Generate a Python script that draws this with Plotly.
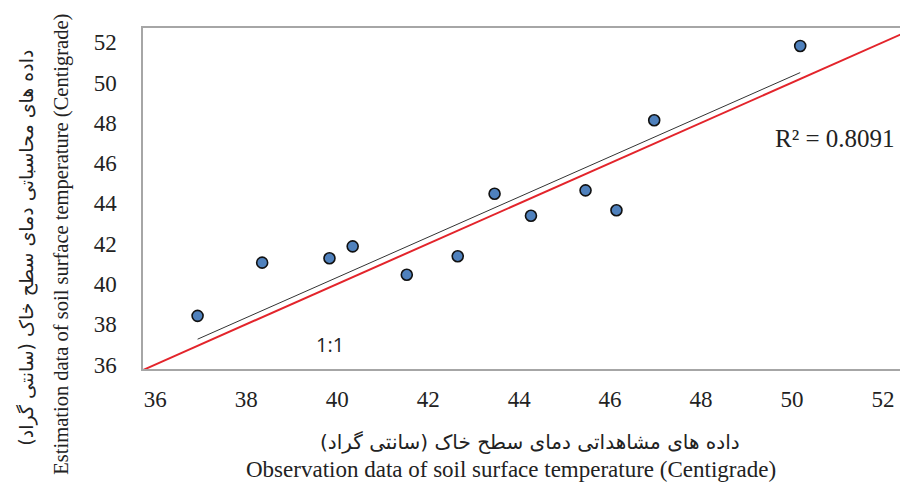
import numpy as np
import plotly.graph_objects as go

# Observed vs estimated soil surface temperature (°C)
observed = [36.93, 38.35, 39.83, 40.34, 41.53, 42.65, 43.46, 44.26, 45.46, 46.14, 46.97, 50.18]
estimated = [38.42, 41.06, 41.28, 41.87, 40.46, 41.38, 44.48, 43.39, 44.65, 43.66, 48.13, 51.82]
# trendline as drawn in the chart: [slope, intercept]
trend_fit = [0.999, 0.367]
tick_vals = [36, 38, 40, 42, 44, 46, 48, 50, 52]
tick_text = [str(v) for v in tick_vals]
r2_label = "R² = 0.8091"
one_to_one_label = "1:1"

x_title_fa = "داده های مشاهداتی دمای سطح خاک (سانتی گراد)"
x_title_en = "Observation data of soil surface temperature (Centigrade)"
y_title_fa = "داده های محاسباتی دمای سطح خاک (سانتی گراد)"
y_title_en = "Estimation data of soil surface temperature (Centigrade)"

x_range = [35.73, 52.55]
y_range = [35.78, 52.71]

tx = np.array([min(observed), max(observed)])
ty = trend_fit[0] * tx + trend_fit[1]

# 1:1 line spanning the axes
lx = np.array([min(x_range[0], y_range[0]) - 1, max(x_range[1], y_range[1]) + 1])

fig = go.Figure()
fig.add_trace(go.Scatter(x=lx, y=lx, mode="lines",
                         line=dict(color="#E3242B", width=2), hoverinfo="skip"))
fig.add_trace(go.Scatter(x=tx, y=ty, mode="lines",
                         line=dict(color="#333333", width=1), hoverinfo="skip"))
fig.add_trace(go.Scatter(x=observed, y=estimated, mode="markers",
                         marker=dict(size=11, color="#4F81BD",
                                     line=dict(color="#111111", width=1.6))))

serif = "Liberation Serif"
axis_common = dict(
    tickmode="array", tickvals=tick_vals, ticktext=tick_text,
    showgrid=False, zeroline=False,
    showline=True, linecolor="#A6A6A6", linewidth=1.5,
    ticks="", tickfont=dict(family=serif, size=23, color="#222222"),
)

# page body has an 8px default margin, so figure is 8px smaller each way
fig.update_layout(
    width=900, height=477,
    font=dict(family=serif, color="#222222"),
    margin=dict(l=135, r=0, t=20, b=115.5),
    paper_bgcolor="white", plot_bgcolor="white",
    showlegend=False,
    xaxis=dict(range=x_range, mirror=True, ticklabelstandoff=9, **axis_common),
    yaxis=dict(range=y_range, ticklabelstandoff=20, **axis_common),
)

ann = [
    dict(text=r2_label, x=0.905, y=0.675, font=dict(family=serif, size=25, color="#222222")),
    dict(text=one_to_one_label, x=0.245, y=0.072,
         font=dict(family="Open Sans, Lato, sans-serif", size=20, color="#222222")),
    dict(text=x_title_fa, x=0.506, y=-0.215, font=dict(family="DejaVu Sans, serif", size=20, color="#222222")),
    dict(text=x_title_en, x=0.481, y=-0.294, font=dict(family=serif, size=23, color="#222222")),
    dict(text=y_title_fa, x=-0.152, y=0.355, textangle=-90,
         font=dict(family="DejaVu Sans, serif", size=19, color="#222222")),
    dict(text=y_title_en, x=-0.107, y=0.365, textangle=-90,
         font=dict(family=serif, size=20.5, color="#222222")),
]
for a in ann:
    fig.add_annotation(xref="paper", yref="paper", showarrow=False,
                       xanchor="center", yanchor="middle", **a)

fig.write_html("out.html")
